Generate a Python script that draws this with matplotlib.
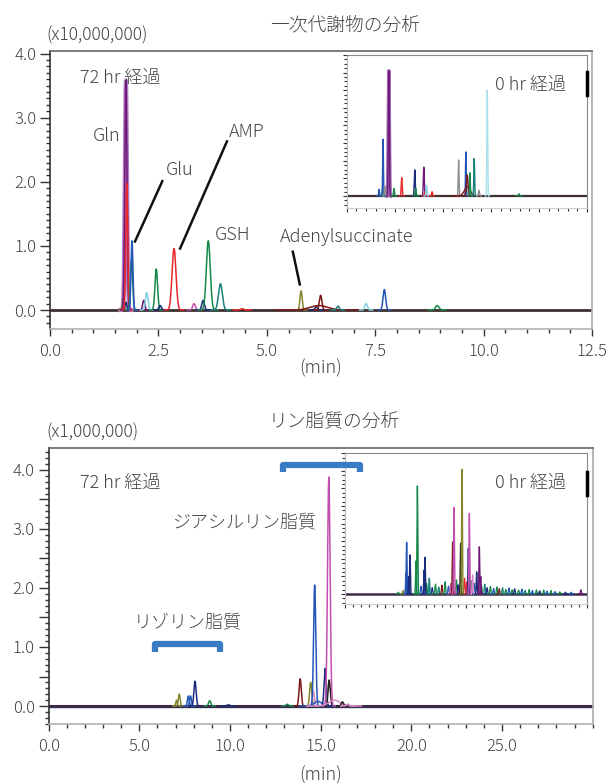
import matplotlib
matplotlib.use("Agg")
import matplotlib.pyplot as plt
from matplotlib.ticker import MultipleLocator, FixedLocator, FuncFormatter
import numpy as np

plt.rcParams['font.family'] = ['Noto Sans CJK JP', 'DejaVu Sans']
plt.rcParams['font.weight'] = 'light'

OLIVE = '#85852c'
NAVY = '#1c2a7c'
PURPLE = '#6e1a78'
RED = '#e8262b'
GREEN = '#15884a'
BLUE = '#2456b8'
CYAN = '#7fcfe0'
LCYAN = '#a9e0ea'
MAGENTA = '#c24fb0'
PINK = '#d98ac8'
TEAL = '#17807a'
DRED = '#7a1818'
GRAY = '#8f8f8f'
BLACK = '#222222'

# ---- primary metabolites, 72 hr (min, x10,000,000)
met72_rt = [1.69, 1.75, 1.75, 1.77, 1.88, 1.89, 2.16, 2.23, 2.45, 2.54, 2.86, 3.32,
            3.53, 3.65, 3.93, 4.43, 5.79, 6.14, 6.24, 6.20, 6.64, 7.29, 7.71, 8.93]
met72_h = [0.18, 0.12, 3.58, 1.98, 0.80, 1.08, 0.15, 0.27, 0.64, 0.07, 0.96, 0.10,
           0.15, 1.08, 0.41, 0.02, 0.30, 0.05, 0.23, 0.07, 0.06, 0.10, 0.32, 0.07]
met72_w = [0.02, 0.02, 0.025, 0.022, 0.025, 0.022, 0.025, 0.03, 0.03, 0.03, 0.045, 0.03,
           0.03, 0.045, 0.045, 0.04, 0.025, 0.03, 0.03, 0.2, 0.03, 0.03, 0.03, 0.04]
met72_c = [OLIVE, NAVY, PURPLE, RED, GREEN, BLUE, PURPLE, CYAN, GREEN, NAVY, RED, MAGENTA,
           NAVY, GREEN, TEAL, RED, OLIVE, NAVY, DRED, DRED, TEAL, CYAN, BLUE, GREEN]

# ---- primary metabolites, 0 hr (inset, relative units)
met0_rt = [1.68, 1.86, 1.89, 1.98, 2.19, 2.46, 2.86, 3.54, 3.59, 4.01, 4.06, 4.15,
           4.44, 5.82, 6.20, 6.27, 6.27, 6.41, 6.63, 6.88, 7.31, 8.96]
met0_h = [0.19, 0.19, 1.61, 0.28, 3.55, 0.21, 0.52, 0.74, 0.21, 0.82, 0.12, 0.30,
          0.12, 1.02, 1.25, 0.60, 0.25, 0.66, 1.06, 0.16, 3.00, 0.06]
met0_w = [0.02, 0.02, 0.02, 0.02, 0.025, 0.025, 0.025, 0.025, 0.025, 0.025, 0.02, 0.025,
          0.025, 0.02, 0.02, 0.04, 0.15, 0.02, 0.02, 0.025, 0.02, 0.03]
met0_c = [BLUE, GREEN, BLUE, GRAY, PURPLE, GREEN, RED, NAVY, GREEN, PURPLE, RED, CYAN,
          RED, GRAY, BLUE, DRED, DRED, GREEN, TEAL, GRAY, LCYAN, GREEN]

# ---- phospholipids, 72 hr (min, x1,000,000)
pl72_rt = [7.05, 7.20, 7.70, 7.82, 8.07, 8.88, 9.90, 13.16, 13.87, 14.45, 14.60, 14.67,
           14.85, 15.25, 15.47, 15.45, 15.75, 16.20, 16.50]
pl72_h = [0.10, 0.20, 0.17, 0.17, 0.42, 0.09, 0.02, 0.03, 0.46, 0.40, 0.25, 2.05,
          0.08, 0.64, 0.44, 3.88, 0.10, 0.07, 0.03]
pl72_w = [0.04, 0.05, 0.05, 0.05, 0.06, 0.06, 0.08, 0.06, 0.06, 0.06, 0.06, 0.06,
          0.2, 0.06, 0.06, 0.07, 0.3, 0.06, 0.08]
pl72_c = [OLIVE, OLIVE, BLUE, BLUE, NAVY, GREEN, NAVY, GREEN, DRED, OLIVE, PINK, BLUE,
          BLUE, NAVY, BLACK, MAGENTA, PINK, BLACK, PINK]

# ---- phospholipids, 0 hr (inset, relative units)
pl0_rt = [7.55, 7.63, 7.90, 8.05, 8.79, 8.96, 9.80, 9.90, 10.44, 13.33, 13.50, 14.32,
          14.49, 15.06, 15.27, 15.39, 15.80, 16.30, 16.63, 16.80]
pl0_h = [0.59, 1.47, 0.50, 1.11, 0.94, 3.07, 0.68, 1.04, 0.45, 1.48, 2.46, 1.44,
         3.54, 0.34, 1.30, 2.29, 0.54, 0.63, 1.34, 0.50]
pl0_c = [BLUE, BLUE, NAVY, NAVY, GREEN, GREEN, NAVY, NAVY, TEAL, DRED, MAGENTA, BLACK,
         OLIVE, RED, NAVY, MAGENTA, PINK, NAVY, PURPLE, PURPLE]
# small background peaks in the 0 hr phospholipid trace
pl0_small_rt = [6.6, 7.2, 9.4, 10.1, 10.8, 11.2, 11.6, 12.0, 12.4, 12.8, 13.1, 13.8,
                14.0, 14.8, 15.6, 16.0, 16.9, 17.3, 17.6, 18.0, 18.4, 18.8, 19.1, 19.5,
                19.9, 20.3, 20.7, 21.0, 21.5, 21.9, 22.3, 22.8, 23.2, 23.7, 24.1, 24.6,
                25.0, 25.5, 26.0, 26.6, 27.3, 28.0, 29.2]
pl0_small_h = [0.05, 0.10, 0.22, 0.30, 0.18, 0.28, 0.20, 0.25, 0.35, 0.22, 0.30, 0.40,
               0.26, 0.45, 0.38, 0.30, 0.24, 0.28, 0.18, 0.22, 0.16, 0.20, 0.15, 0.18,
               0.13, 0.17, 0.12, 0.15, 0.11, 0.14, 0.10, 0.13, 0.10, 0.12, 0.09, 0.11,
               0.08, 0.10, 0.07, 0.06, 0.05, 0.05, 0.12]
pl0_small_c = [GREEN, OLIVE, BLUE, GREEN, NAVY, GREEN, TEAL, DRED, GREEN, BLUE, MAGENTA, GREEN,
               NAVY, RED, GREEN, BLUE, GREEN, TEAL, NAVY, GREEN, BLUE, GREEN, DRED, TEAL,
               GREEN, BLUE, GREEN, NAVY, GREEN, BLUE, TEAL, GREEN, BLUE, GREEN, NAVY, GREEN,
               BLUE, GREEN, BLUE, GREEN, NAVY, BLUE, PURPLE]


def draw_peaks(ax, rts, hs, ws, cs, lw=1.1, z=3):
    for rt, h, w, c in zip(rts, hs, ws, cs):
        t = np.linspace(rt - 5 * w, rt + 5 * w, 300)
        y = h * np.exp(-0.5 * ((t - rt) / w) ** 2)
        ax.plot(t, y, color=c, lw=lw, zorder=z, solid_joinstyle='round')


def style_main(ax):
    ax.spines['left'].set_color('#333333')
    ax.spines['top'].set_color('#666666')
    ax.spines['right'].set_color('#aaaaaa')
    ax.spines['bottom'].set_color('#b0b0b0')
    for s in ax.spines.values():
        s.set_linewidth(1.2)
    ax.tick_params(which='both', direction='out', colors='#333333', labelcolor='#444444',
                   labelsize=12, width=1)
    ax.tick_params(which='major', length=7)
    ax.tick_params(which='minor', length=3)
    ax.tick_params(axis='x', which='major', length=5, pad=5)
    ax.tick_params(axis='y', pad=3)


def style_inset(ax):
    ax.spines['left'].set_color('#bbbbbb')
    ax.spines['bottom'].set_color('#cccccc')
    ax.spines['top'].set_color('#888888')
    ax.spines['right'].set_color('#888888')
    ax.tick_params(which='both', direction='out', colors='#333333', width=0.8,
                   labelleft=False, labelbottom=False)
    ax.tick_params(which='major', length=3)
    ax.tick_params(which='minor', length=2)


fmt1 = FuncFormatter(lambda v, p: '%.1f' % v)

fig = plt.figure(figsize=(6.13, 7.83), dpi=100)

# ================= top panel =================
ax1 = fig.add_axes([0.0816, 0.5798, 0.8842, 0.3550])
ax1.set_xlim(0, 12.5)
ax1.set_ylim(-0.296, 4.04)
style_main(ax1)
ax1.xaxis.set_major_locator(MultipleLocator(2.5))
ax1.xaxis.set_minor_locator(MultipleLocator(0.5))
ax1.yaxis.set_major_locator(MultipleLocator(1.0))
ax1.yaxis.set_minor_locator(MultipleLocator(0.1))
ax1.xaxis.set_major_formatter(fmt1)
ax1.yaxis.set_major_formatter(fmt1)
ax1.axhline(0, color='#3d3030', lw=2, zorder=2)
# Gln has a light purple edge
t = np.linspace(1.62, 1.88, 300)
ax1.plot(t, met72_h[2] * np.exp(-0.5 * ((t - met72_rt[2]) / met72_w[2]) ** 2),
         color='#b47cc6', lw=3, zorder=3)
draw_peaks(ax1, met72_rt, met72_h, met72_w, met72_c)

tk = dict(color='#444444', fontsize=13)
ax1.text(0.69, 3.62, '72 hr 経過', ha='left', va='center', **tk)
ax1.text(1.31, 2.72, 'Gln', ha='center', va='center', **tk)
ax1.text(3.0, 2.18, 'Glu', ha='center', va='center', **tk)
ax1.text(4.54, 2.77, 'AMP', ha='center', va='center', **tk)
ax1.text(4.2, 1.17, 'GSH', ha='center', va='center', **tk)
ax1.text(6.83, 1.14, 'Adenylsuccinate', ha='center', va='center', **tk)
ax1.plot([2.59, 1.96], [2.01, 1.07], color='#111111', lw=1.8, zorder=4)
ax1.plot([4.08, 3.0], [2.63, 0.96], color='#111111', lw=1.8, zorder=4)
ax1.plot([5.6, 5.76], [0.91, 0.40], color='#111111', lw=1.8, zorder=4)
ax1.text(0.5, -0.14, '(min)', transform=ax1.transAxes, ha='center', va='center',
         **tk)

in1 = fig.add_axes([0.5656, 0.7344, 0.3920, 0.1954])
in1.set_xlim(0, 12.5)
in1.set_ylim(-0.34, 4.0)
style_inset(in1)
in1.xaxis.set_major_locator(MultipleLocator(2.5))
in1.xaxis.set_minor_locator(MultipleLocator(0.5))
in1.yaxis.set_major_locator(MultipleLocator(0.5))
in1.yaxis.set_minor_locator(MultipleLocator(0.125))
in1.axhline(0, color='#3d3030', lw=1.6, zorder=2)
t = np.linspace(2.09, 2.29, 200)
in1.plot(t, met0_h[4] * np.exp(-0.5 * ((t - met0_rt[4]) / met0_w[4]) ** 2),
         color='#a06ab4', lw=2.6, zorder=3)
draw_peaks(in1, met0_rt, met0_h, met0_w, met0_c, lw=1.0)
in1.text(7.7, 3.15, '0 hr 経過', ha='left', va='center', **tk)
in1.plot([1, 1], [0.739, 0.891], transform=in1.transAxes, color='black', lw=2.5,
         clip_on=False, zorder=6)

# ================= bottom panel =================
ax2 = fig.add_axes([0.0794, 0.07535, 0.8874, 0.3529])
ax2.set_xlim(0, 30)
ax2.set_ylim(-0.305, 4.378)
style_main(ax2)
ax2.xaxis.set_major_locator(FixedLocator([0, 5, 10, 15, 20, 25]))
ax2.xaxis.set_minor_locator(MultipleLocator(1.0))
ax2.yaxis.set_major_locator(MultipleLocator(0.5))
ax2.yaxis.set_minor_locator(MultipleLocator(0.1))
ax2.xaxis.set_major_formatter(fmt1)
ax2.yaxis.set_major_formatter(FuncFormatter(
    lambda v, p: '%.1f' % v if abs(v - round(v)) < 1e-6 else ''))
ax2.axhline(-0.025, color='#3a8a8a', lw=1.0, zorder=2)
ax2.axhline(0, color='#3b2a48', lw=2.2, zorder=2)
draw_peaks(ax2, pl72_rt, pl72_h, pl72_w, pl72_c, lw=1.1)
ax2.text(1.73, 3.78, '72 hr 経過', ha='left', va='center', **tk)
ax2.text(10.78, 3.12, 'ジアシルリン脂質', ha='center', va='center', **tk)
ax2.text(7.66, 1.41, 'リゾリン脂質', ha='center', va='center', **tk)
ax2.plot([5.85, 5.85, 9.47, 9.47], [0.92, 1.05, 1.05, 0.92], color='#3a7cc4', lw=4.5,
         solid_joinstyle='round', solid_capstyle='butt', zorder=5)
ax2.text(0.5, -0.185, '(min)', transform=ax2.transAxes, ha='center', va='center', **tk)

in2 = fig.add_axes([0.5628, 0.2286, 0.3953, 0.1925])
in2.set_xlim(0, 30)
in2.set_ylim(-0.284, 4.0)
style_inset(in2)
in2.xaxis.set_major_locator(MultipleLocator(5))
in2.xaxis.set_minor_locator(MultipleLocator(1))
in2.yaxis.set_major_locator(MultipleLocator(0.5))
in2.yaxis.set_minor_locator(MultipleLocator(0.125))
in2.axhline(0, color='#3b2a48', lw=1.8, zorder=2)
draw_peaks(in2, pl0_small_rt, pl0_small_h, [0.06] * len(pl0_small_rt), pl0_small_c,
           lw=0.9, z=3)
draw_peaks(in2, pl0_rt, pl0_h, [0.05] * len(pl0_rt), pl0_c, lw=1.0, z=4)
in2.text(18.57, 3.15, '0 hr 経過', ha='left', va='center', **tk)
in2.plot([1, 1], [0.723, 0.878], transform=in2.transAxes, color='black', lw=2.5,
         clip_on=False, zorder=6)
# bracket for diacyl phospholipids, drawn over the inset
in2.plot([12.95, 12.95, 17.15, 17.15], [3.96, 4.08, 4.08, 3.96], transform=ax2.transData,
         color='#3a7cc4', lw=4.5, solid_joinstyle='round', solid_capstyle='butt',
         clip_on=False, zorder=7)

# titles and unit labels
fig.text(345 / 613, 1 - 25 / 783, '一次代謝物の分析', ha='center', va='center',
         color='#444444', fontsize=13.5)
fig.text(334 / 613, 1 - 421 / 783, 'リン脂質の分析', ha='center', va='center',
         color='#444444', fontsize=13.5)
fig.text(46 / 613, 1 - 35 / 783, '(x10,000,000)', ha='left', va='center',
         color='#444444', fontsize=12.5)
fig.text(46 / 613, 1 - 432 / 783, '(x1,000,000)', ha='left', va='center',
         color='#444444', fontsize=12.5)

fig.savefig('out.png', dpi=100)
